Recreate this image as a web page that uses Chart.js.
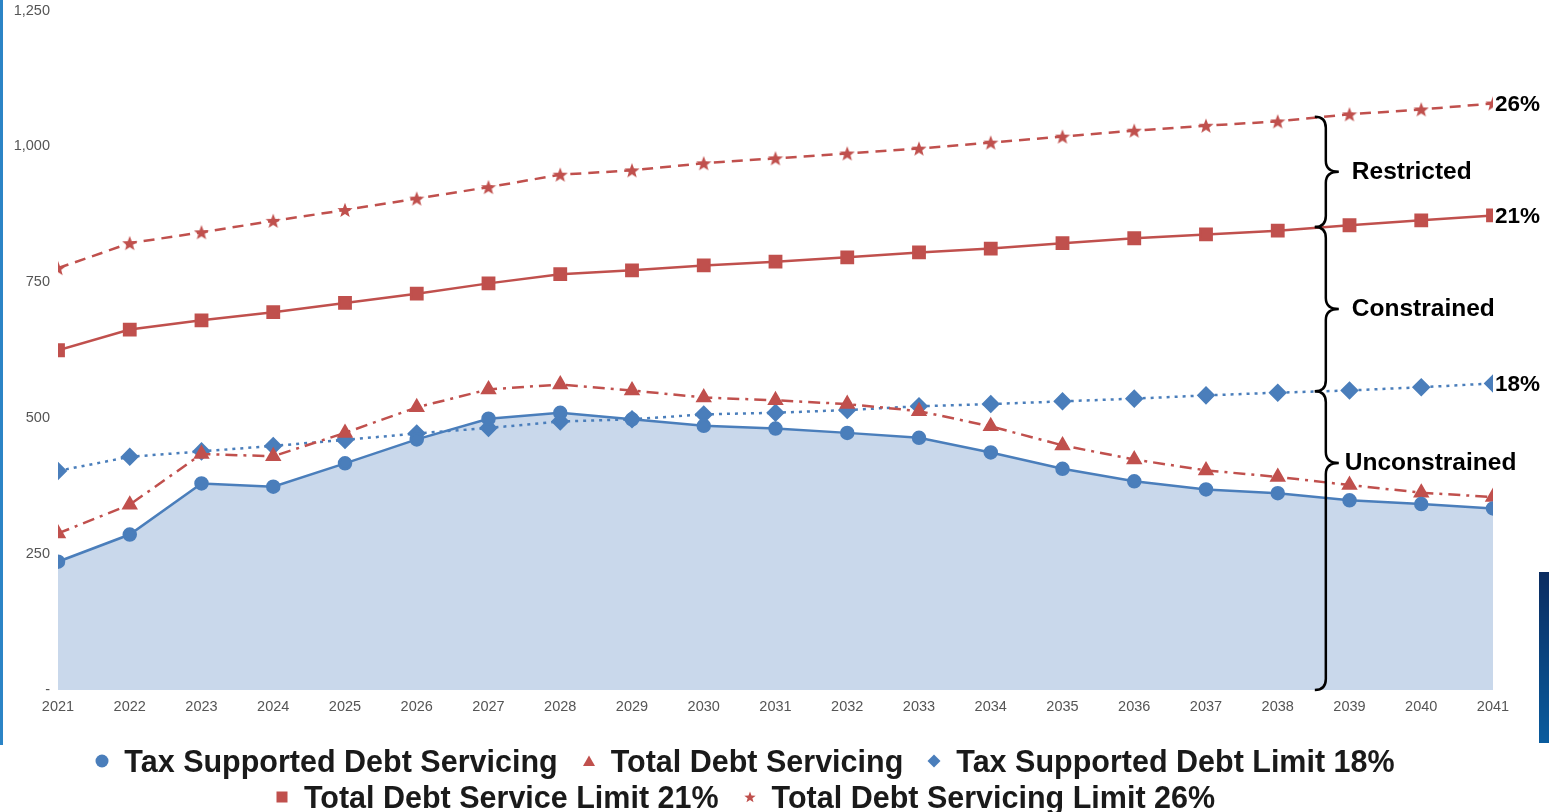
<!DOCTYPE html>
<html>
<head>
<meta charset="utf-8">
<title>Debt servicing vs limits</title>
<script src="https://cdn.jsdelivr.net/npm/chart.js@4.4.1/dist/chart.umd.min.js"></script>
<style>
	html, body { margin: 0; padding: 0; background: #fff; overflow: hidden; }
	#wrap { position: relative; width: 1549px; height: 812px; }
	#chartBox { position: absolute; left: 0; top: 0; width: 1549px; height: 738px; }
	#stripe { position: absolute; left: 0; top: 0; width: 3px; height: 745px; background: #2b84c6; }
	#tab { position: absolute; left: 1539px; top: 572px; width: 10px; height: 171px; background: linear-gradient(#0b2c60, #0a5c9e); }
	#legend { position: absolute; left: 0; top: 743px; width: 1490px;
		font: bold 30.5px "Liberation Sans", Arial, sans-serif; color: #1a1a1a; }
	#legend .row { display: flex; justify-content: center; align-items: center; height: 36px; white-space: nowrap; }
	#legend .item { display: flex; align-items: center; margin: 0 12px; line-height: 36px; }
	#legend canvas { margin-right: 15px; }
</style>
</head>
<body>
<div id="wrap">
	<div id="chartBox"><canvas id="debtChart"></canvas></div>
	<div id="stripe"></div>
	<div id="tab"></div>
	<div id="legend"></div>
</div>
<script>
// chart data
const years = ['2021','2022','2023','2024','2025','2026','2027','2028','2029','2030','2031','2032','2033','2034','2035','2036','2037','2038','2039','2040','2041'];
const taxServicing = [236, 286, 380, 374, 417, 461, 499, 510, 498, 486, 481, 473, 464, 437, 407, 384, 369, 362, 349, 342, 334];
const totalServicing = [288, 341, 434, 430, 473, 520, 553, 562, 551, 538, 533, 526, 513, 485, 450, 424, 404, 392, 377, 363, 355];
const taxLimit18 = [403, 429, 439, 449, 460, 472, 482, 494, 498, 507, 510, 515, 522, 526, 531, 536, 542, 547, 551, 557, 564];
const totalLimit21 = [625, 663, 680, 695, 712, 729, 748, 765, 772, 781, 788, 796, 805, 812, 822, 831, 838, 845, 855, 864, 873];
const totalLimit26 = [776, 822, 842, 863, 883, 904, 925, 948, 956, 969, 978, 987, 996, 1007, 1018, 1029, 1038, 1046, 1059, 1068, 1079];
const yTicks = [0, 250, 500, 750, 1000, 1250];
const limitTags = ['18%', '21%', '26%'];
const bandNames = ['Restricted', 'Constrained', 'Unconstrained'];

const BLUE = '#4a7ebb';
const RED = '#c0504d';

// filled star used as a point style
function makeStar(size, color) {
	const c = document.createElement('canvas');
	c.width = size; c.height = size;
	const g = c.getContext('2d');
	const cx = size / 2, cy = size / 2 + size * 0.04, R = size / 2, r = R * 0.42;
	g.beginPath();
	for (let i = 0; i < 10; i++) {
		const a = -Math.PI / 2 + i * Math.PI / 5;
		const rad = i % 2 ? r : R;
		g.lineTo(cx + Math.cos(a) * rad, cy + Math.sin(a) * rad);
	}
	g.closePath();
	g.fillStyle = color;
	g.fill();
	return c;
}
const bigStar = makeStar(16, RED);

function valueAt(arr, idx) {
	const i = Math.floor(idx), f = idx - i;
	return arr[i] + f * (arr[Math.min(i + 1, arr.length - 1)] - arr[i]);
}

// braces + percentage tags on the right
const annotations = {
	id: 'annotations',
	afterDatasetsDraw(chart) {
		const {ctx, scales: {x, y}} = chart;
		const last = years.length - 1;
		ctx.save();

		// percentage tags at line ends
		ctx.font = 'bold 22.5px "Liberation Sans", Arial, sans-serif';
		ctx.fillStyle = '#000';
		ctx.textAlign = 'left';
		ctx.textBaseline = 'middle';
		[taxLimit18, totalLimit21, totalLimit26].forEach((arr, i) => {
			ctx.fillText(limitTags[i], x.getPixelForValue(last) + 2, y.getPixelForValue(arr[last]) + 1);
		});

		// curly braces
		const bx = 17.67;
		const xs = x.getPixelForValue(bx);
		const bounds = [valueAt(totalLimit26, bx), valueAt(totalLimit21, bx), valueAt(taxLimit18, bx), 0];
		const tipFrac = [0.5, 0.5, 0.24];
		const curl = 11, tip = 13;
		ctx.strokeStyle = '#000';
		ctx.lineWidth = 2.5;
		ctx.font = 'bold 24.5px "Liberation Sans", Arial, sans-serif';
		for (let b = 0; b < 3; b++) {
			const yt = y.getPixelForValue(bounds[b]);
			const yb = y.getPixelForValue(bounds[b + 1]);
			const ym = yt + (yb - yt) * tipFrac[b];
			ctx.beginPath();
			ctx.moveTo(xs - curl, yt);
			ctx.quadraticCurveTo(xs, yt, xs, yt + curl);
			ctx.lineTo(xs, ym - curl);
			ctx.quadraticCurveTo(xs, ym, xs + tip, ym);
			ctx.quadraticCurveTo(xs, ym, xs, ym + curl);
			ctx.lineTo(xs, yb - curl);
			ctx.quadraticCurveTo(xs, yb, xs - curl, yb);
			ctx.stroke();
			ctx.fillText(bandNames[b], xs + tip + (b === 2 ? 6 : 13), ym);
		}
		ctx.restore();
	}
};

const edgeClip = { left: 0, right: 0, top: false, bottom: false };

const ctx = document.getElementById('debtChart').getContext('2d');
const chart = new Chart(ctx, {
	type: 'line',
	data: {
		labels: years,
		datasets: [
			{
				label: 'Tax Supported Debt Servicing',
				data: taxServicing,
				borderColor: BLUE,
				backgroundColor: '#c9d8eb',
				pointBackgroundColor: BLUE,
				pointBorderColor: BLUE,
				pointStyle: 'circle',
				pointRadius: 6,
				borderWidth: 2.5,
				fill: 'origin',
				clip: edgeClip
			},
			{
				label: 'Total Debt Servicing',
				data: totalServicing,
				borderColor: RED,
				backgroundColor: RED,
				pointBackgroundColor: RED,
				pointBorderColor: RED,
				pointStyle: 'triangle',
				pointRadius: 7,
				borderWidth: 2.5,
				borderDash: [12, 6, 3, 6],
				fill: false,
				clip: edgeClip
			},
			{
				label: 'Tax Supported Debt Limit 18%',
				data: taxLimit18,
				borderColor: BLUE,
				backgroundColor: BLUE,
				pointBackgroundColor: BLUE,
				pointBorderColor: BLUE,
				pointStyle: 'rectRot',
				pointRadius: 7.5,
				borderWidth: 2.5,
				borderDash: [3, 5],
				fill: false,
				clip: edgeClip
			},
			{
				label: 'Total Debt Service Limit 21%',
				data: totalLimit21,
				borderColor: RED,
				backgroundColor: RED,
				pointBackgroundColor: RED,
				pointBorderColor: RED,
				pointStyle: 'rect',
				pointRadius: 8,
				borderWidth: 2.5,
				fill: false,
				clip: edgeClip
			},
			{
				label: 'Total Debt Servicing Limit 26%',
				data: totalLimit26,
				borderColor: RED,
				backgroundColor: RED,
				pointBackgroundColor: RED,
				pointBorderColor: RED,
				pointStyle: bigStar,
				pointRadius: 7,
				borderWidth: 2.5,
				borderDash: [11, 7],
				fill: false,
				clip: edgeClip
			}
		]
	},
	options: {
		responsive: true,
		maintainAspectRatio: false,
		animation: false,
		layout: { padding: { top: 6, right: 56, bottom: 0, left: 0 } },
		plugins: {
			filler: { drawTime: 'beforeDatasetsDraw' },
			tooltip: { enabled: false },
			legend: { display: false }
		},
		scales: {
			x: {
				grid: { display: false },
				border: { display: false },
				ticks: {
					color: '#555',
					padding: 0,
					maxRotation: 0,
					autoSkip: false,
					font: { family: 'Arial, "Liberation Sans", sans-serif', size: 14.5 }
				},
				afterFit(s) { s.height = 48; }
			},
			y: {
				min: 0,
				max: 1250,
				grid: { display: false },
				border: { display: false },
				afterBuildTicks(s) { s.ticks = yTicks.map(v => ({ value: v })); },
				afterFit(s) { s.width = 58; },
				ticks: {
					color: '#555',
					padding: 0,
					font: { family: 'Arial, "Liberation Sans", sans-serif', size: 14.5 },
					callback: v => v === 0 ? '-' : v.toLocaleString('en-US')
				}
			}
		}
	},
	plugins: [annotations]
});

// legend built from the datasets, two centred rows
function legendMarker(ds) {
	const c = document.createElement('canvas');
	c.width = 14; c.height = 14;
	const g = c.getContext('2d');
	g.fillStyle = ds.pointBackgroundColor;
	const s = ds.pointStyle;
	if (s === 'circle') { g.beginPath(); g.arc(7, 7, 6.5, 0, Math.PI * 2); g.fill(); }
	else if (s === 'triangle') { g.beginPath(); g.moveTo(7, 1.5); g.lineTo(13, 12); g.lineTo(1, 12); g.closePath(); g.fill(); }
	else if (s === 'rectRot') { g.beginPath(); g.moveTo(7, 0.5); g.lineTo(13.5, 7); g.lineTo(7, 13.5); g.lineTo(0.5, 7); g.closePath(); g.fill(); }
	else if (s === 'rect') { g.fillRect(1.5, 1.5, 11, 11); }
	else { g.drawImage(makeStar(12, ds.pointBackgroundColor), 1, 1); }
	return c;
}
const legendRows = [[0, 1, 2], [3, 4]];
const legendEl = document.getElementById('legend');
legendRows.forEach(row => {
	const rowEl = document.createElement('div');
	rowEl.className = 'row';
	row.forEach(i => {
		const ds = chart.data.datasets[i];
		const item = document.createElement('span');
		item.className = 'item';
		item.appendChild(legendMarker(ds));
		item.appendChild(document.createTextNode(ds.label));
		rowEl.appendChild(item);
	});
	legendEl.appendChild(rowEl);
});
</script>
</body>
</html>
